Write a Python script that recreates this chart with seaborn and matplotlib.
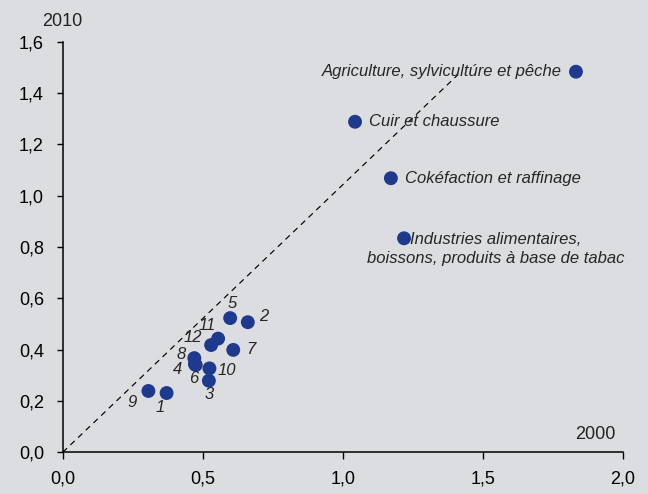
import pandas as pd
import seaborn as sns
import numpy as np
import matplotlib.pyplot as plt
from matplotlib.ticker import FuncFormatter

# values (x = 2000, y = 2010)
labels = ["1", "2", "3", "4", "5", "6", "7", "8", "9", "10", "11", "12",
          "Agriculture, sylvicultúre et pêche", "Cuir et chaussure",
          "Cokéfaction et raffinage",
          "Industries alimentaires,\nboissons, produits à base de tabac"]
x2000 = [0.371, 0.661, 0.522, 0.472, 0.598, 0.475, 0.609, 0.470, 0.306, 0.524, 0.555, 0.530,
         1.833, 1.044, 1.172, 1.219]
y2010 = [0.231, 0.507, 0.279, 0.344, 0.523, 0.340, 0.399, 0.367, 0.239, 0.327, 0.443, 0.418,
         1.483, 1.288, 1.068, 0.834]

# reference diagonal
diag_x = [0.0, 1.41]
diag_y = [0.0, 1.47]

xticks = [0.0, 0.5, 1.0, 1.5, 2.0]
yticks = [0.0, 0.2, 0.4, 0.6, 0.8, 1.0, 1.2, 1.4, 1.6]

bg = "#dcdde0"
dot = "#1f3a8c"

df = pd.DataFrame({"label": labels, "x": x2000, "y": y2010})

sns.set_style("ticks", {"axes.facecolor": bg, "figure.facecolor": bg})
plt.rcParams['font.family'] = ['Liberation Sans', 'DejaVu Sans']

fig = plt.figure(figsize=(6.48, 4.94), dpi=100)
ax = fig.add_axes([0.0968, 0.0844, 0.8642, 0.8312])

ax.plot(diag_x, diag_y, ls=(0, (5, 4)), color="black", lw=0.85, zorder=1)
sns.scatterplot(data=df, x="x", y="y", ax=ax, color=dot, s=100, edgecolor="none",
                zorder=3, clip_on=False, legend=False)

# label offsets in pixels (dx, dy), converted to points
px_off = {"1": (-6, -14), "2": (16, 6), "3": (0, -14), "4": (-17, -5), "5": (2, 15),
          "6": (-2, -13), "7": (18, 0), "8": (-13, 4), "9": (-16, -12), "10": (17, -2),
          "11": (-11, 13), "12": (-18, 8)}
lab_size = 12
for lab, xv, yv in zip(labels, x2000, y2010):
    if lab in px_off:
        dx, dy = px_off[lab]
        ax.annotate(lab, (xv, yv), xytext=(dx * 0.72, dy * 0.72), textcoords="offset points",
                    ha="center", va="center", fontsize=lab_size, style="italic")

ax.annotate(labels[12], (x2000[12], y2010[12]), xytext=(-10, 0), textcoords="offset points",
            ha="right", va="center", fontsize=lab_size, style="italic")
ax.annotate(labels[13], (x2000[13], y2010[13]), xytext=(10, 0), textcoords="offset points",
            ha="left", va="center", fontsize=lab_size, style="italic")
ax.annotate(labels[14], (x2000[14], y2010[14]), xytext=(10.5, 0), textcoords="offset points",
            ha="left", va="center", fontsize=lab_size, style="italic")
ax.annotate(labels[15], (x2000[15], y2010[15]), xytext=(66, -8), textcoords="offset points",
            ha="center", va="center", multialignment="center", fontsize=lab_size,
            style="italic", linespacing=1.35)

ax.set_xlim(0, 2)
ax.set_ylim(0, 1.6)
ax.set_xticks(xticks)
ax.set_yticks(yticks)
fmt = FuncFormatter(lambda v, p: f"{v:.1f}".replace(".", ","))
ax.xaxis.set_major_formatter(fmt)
ax.yaxis.set_major_formatter(fmt)
ax.set_xlabel("")
ax.set_ylabel("")
ax.tick_params(axis="y", length=4.5, width=1, pad=9, labelsize=13, colors="black")
ax.tick_params(axis="x", length=5, width=1, pad=8, labelsize=13, colors="black")
for side in ["top", "right"]:
    ax.spines[side].set_visible(False)
for side in ["left", "bottom"]:
    ax.spines[side].set_linewidth(1.1)
    ax.spines[side].set_color("black")

fig.text(62 / 648, 1 - 21 / 494, "2010", ha="center", va="center", fontsize=13, color="#222222")
fig.text(615 / 648, 1 - 434 / 494, "2000", ha="right", va="center", fontsize=13, color="#222222")

fig.savefig("out.png", dpi=100, facecolor=bg)
